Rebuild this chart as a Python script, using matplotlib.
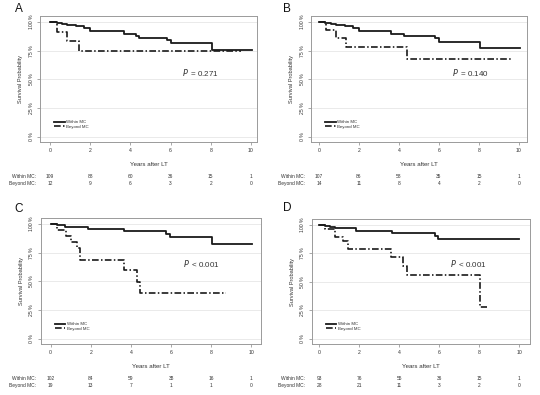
import matplotlib
matplotlib.use("Agg")
import matplotlib.pyplot as plt

plt.rcParams['font.family'] = ['Liberation Sans', 'DejaVu Sans']

years_ticks = [0, 2, 4, 6, 8, 10]
y_ticks = [0, 25, 50, 75, 100]
y_ticklabels = ["0 %", "25 %", "50 %", "75 %", "100 %"]

# Panel A
A_within_t = [0, 0.33, 0.6, 0.85, 1.3, 1.7, 2.0, 3.7, 4.3, 4.45, 5.8, 6.0, 8.05, 10.05]
A_within_s = [100, 99.1, 98.5, 97.6, 96.5, 95.2, 92.2, 89.8, 87.8, 86.2, 84.2, 82.0, 76.1, 76.1]
A_beyond_t = [0, 0.33, 0.83, 1.42, 9.5]
A_beyond_s = [100, 91.7, 83.3, 75.0, 75.0]
A_risk_within = [109, 88, 60, 36, 15, 1]
A_risk_beyond = [12, 9, 6, 3, 2, 0]
A_p = "= 0.271"

# Panel B
B_within_t = [0, 0.28, 0.6, 0.87, 1.3, 1.7, 2.0, 3.6, 4.25, 5.8, 6.0, 8.03, 10.03]
B_within_s = [100, 99.0, 98.5, 97.4, 96.3, 94.8, 92.5, 89.7, 87.6, 86.0, 83.0, 77.3, 77.3]
B_beyond_t = [0, 0.33, 0.83, 1.37, 4.4, 9.62]
B_beyond_s = [100, 92.9, 85.7, 78.6, 67.5, 67.5]
B_risk_within = [107, 86, 58, 35, 15, 1]
B_risk_beyond = [14, 11, 8, 4, 2, 0]
B_p = "= 0.140"

# Panel C
C_within_t = [0, 0.3, 0.7, 1.85, 3.65, 5.75, 5.95, 8.05, 10.05]
C_within_s = [100, 99.0, 97.8, 95.6, 93.8, 91.5, 89.0, 83.0, 83.0]
C_beyond_t = [0, 0.3, 0.78, 1.0, 1.3, 1.45, 3.65, 4.3, 4.45, 8.72]
C_beyond_s = [100, 94.7, 89.5, 84.2, 78.9, 68.4, 59.8, 49.8, 39.9, 39.9]
C_risk_within = [102, 84, 59, 38, 16, 1]
C_risk_beyond = [19, 13, 7, 1, 1, 0]
C_p = "< 0.001"

# Panel D
D_within_t = [0, 0.3, 0.55, 0.8, 1.85, 3.62, 5.78, 5.95, 10.0]
D_within_s = [100, 99.0, 98.0, 97.0, 95.0, 92.7, 90.6, 87.8, 87.8]
D_beyond_t = [0, 0.3, 0.8, 1.2, 1.45, 3.6, 4.2, 4.4, 8.05, 8.37]
D_beyond_s = [100, 96.4, 89.3, 85.7, 78.6, 72.2, 63.8, 55.8, 27.8, 27.8]
D_risk_within = [93, 76, 55, 36, 15, 1]
D_risk_beyond = [28, 21, 11, 3, 2, 0]
D_p = "< 0.001"

W, H = 540, 395
fig = plt.figure(figsize=(W / 100, H / 100), dpi=100)

panels = [
    dict(letter="A", box=(40, 16, 217, 126), xlim=(-0.5, 10.3), letter_xy=(19, 9), p_xy=(6.57, 56),
         wt=A_within_t, ws=A_within_s, bt=A_beyond_t, bs=A_beyond_s,
         rw=A_risk_within, rb=A_risk_beyond, p=A_p),
    dict(letter="B", box=(311, 16, 216, 126), xlim=(-0.4, 10.4), letter_xy=(287, 9), p_xy=(6.65, 56),
         wt=B_within_t, ws=B_within_s, bt=B_beyond_t, bs=B_beyond_s,
         rw=B_risk_within, rb=B_risk_beyond, p=B_p),
    dict(letter="C", box=(40.5, 218, 220, 126), xlim=(-0.5, 10.45), letter_xy=(19, 209), p_xy=(6.57, 66),
         wt=C_within_t, ws=C_within_s, bt=C_beyond_t, bs=C_beyond_s,
         rw=C_risk_within, rb=C_risk_beyond, p=C_p),
    dict(letter="D", box=(311.5, 219, 218, 125), xlim=(-0.39, 10.51), letter_xy=(287, 208), p_xy=(6.53, 66),
         wt=D_within_t, ws=D_within_s, bt=D_beyond_t, bs=D_beyond_s,
         rw=D_risk_within, rb=D_risk_beyond, p=D_p),
]

text_col = "#333333"
spine_col = "#9a9a9a"
line_col = "#1a1a1a"
dashdot = (0, (4.0, 1.4, 0.9, 1.4))

for pnl in panels:
    l, t, w, h = pnl["box"]
    ax = fig.add_axes([l / W, 1 - (t + h) / H, w / W, h / H])
    ax.set_xlim(*pnl["xlim"])
    ax.set_ylim(-4.5, 105.3)
    for y in y_ticks:
        ax.axhline(y, color="#e6e6e6", lw=0.6, zorder=0)
    ax.step(pnl["wt"], pnl["ws"], where="post", color=line_col, lw=1.3, label="Within MC", zorder=3)
    ax.step(pnl["bt"], pnl["bs"], where="post", color=line_col, lw=1.2, linestyle=dashdot,
            label="Beyond MC", zorder=2)
    for s in ax.spines.values():
        s.set_color(spine_col)
        s.set_linewidth(0.7)
    ax.set_xticks(years_ticks)
    ax.set_xticklabels([str(v) for v in years_ticks])
    ax.set_yticks(y_ticks)
    ax.set_yticklabels(y_ticklabels, rotation=90, va="center")
    ax.tick_params(axis="both", length=2.0, width=0.6, color=spine_col, labelsize=3.7,
                   labelcolor=text_col, pad=2.5)
    ax.set_ylabel("Survival Probability", fontsize=4.1, color=text_col, labelpad=4)
    ax.set_xlabel("Years after LT", fontsize=4.4, color=text_col, labelpad=6)
    leg = ax.legend(loc="center left", bbox_to_anchor=(0.065, 0.14), frameon=False, fontsize=3.2,
                    handlelength=2.4, handletextpad=0.35, labelspacing=0.05, borderpad=0, borderaxespad=0)
    for txt in leg.get_texts():
        txt.set_color(text_col)
    ax.text(pnl["p_xy"][0], pnl["p_xy"][1], "$\\mathit{P}\\,$ " + pnl["p"], fontsize=5.8, color=text_col,
            va="center", ha="left")
    # risk table
    tr = ax.get_xaxis_transform()
    row1 = -(35.0 / h)
    row2 = -(41.5 / h)
    ax.text(-0.72, row1, "Within MC:", transform=tr, ha="right", va="center", fontsize=3.5,
            color=text_col, clip_on=False)
    ax.text(-0.72, row2, "Beyond MC:", transform=tr, ha="right", va="center", fontsize=3.5,
            color=text_col, clip_on=False)
    for x, a, b in zip(years_ticks, pnl["rw"], pnl["rb"]):
        ax.text(x, row1, str(a), transform=tr, ha="center", va="center", fontsize=3.5,
                color=text_col, clip_on=False)
        ax.text(x, row2, str(b), transform=tr, ha="center", va="center", fontsize=3.5,
                color=text_col, clip_on=False)
    lx, ly = pnl["letter_xy"]
    fig.text(lx / W, 1 - ly / H, pnl["letter"], fontsize=8.5, color="#111111", ha="center", va="center")

fig.savefig("out.png", dpi=100)
